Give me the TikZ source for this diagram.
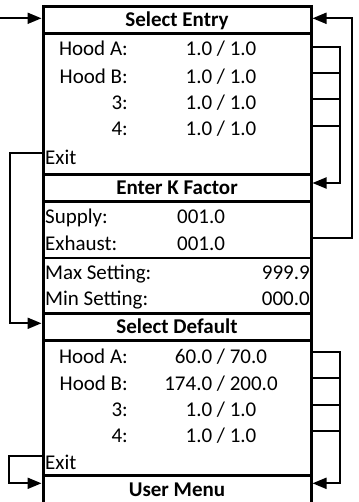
\documentclass[tikz,border=0pt]{standalone}
\usepackage{fontspec}
\setmainfont{Carlito}
\usetikzlibrary{arrows.meta}

\begin{document}
\begin{tikzpicture}[x=1pt, y=-1pt,
  font=\fontsize{21}{25}\selectfont,
  titlebox/.style={draw, line width=3pt, fill=white, minimum width=268pt, minimum height=27.2pt,
    inner sep=0pt, text height=13pt, text depth=0pt, font=\fontsize{21}{25}\selectfont\bfseries},
  lbl/.style={anchor=base east, inner sep=0pt},
  val/.style={anchor=base, inner sep=0pt},
  lft/.style={anchor=base west, inner sep=0pt},
  rgt/.style={anchor=base east, inner sep=0pt},
  wire/.style={line width=2pt},
  arr/.style={wire, -{Triangle[length=14pt, width=11pt]}}]
\clip (0,0) rectangle (358,502);

% sides of the menu column
\draw[line width=3pt] (43,5) -- (43,520);
\draw[line width=3pt] (311,5) -- (311,520);
\draw[wire] (43,257.8) -- (311,257.8);

\node[titlebox] (selentry) at (177,20.1) {Select Entry};
\node[titlebox] (kfactor) at (177,188) {Enter K Factor};
\node[titlebox] (seldef) at (177,327.3) {Select Default};
\node[titlebox, minimum height=40pt, text depth=10pt] (usermenu) at (177,495.3) {User Menu};

% select entry rows
\node[lbl] (entA) at (128,56) {Hood A:};
\node[val] (entAv) at (221,56) {1.0 / 1.0};
\node[lbl] (entB) at (128,83.3) {Hood B:};
\node[val] (entBv) at (221,83.3) {1.0 / 1.0};
\node[lbl] (ent3) at (128,109.3) {3:};
\node[val] (ent3v) at (221,109.3) {1.0 / 1.0};
\node[lbl] (ent4) at (128,136) {4:};
\node[val] (ent4v) at (221,136) {1.0 / 1.0};
\node[lft] (entexit) at (45,165) {Exit};

% k factor rows
\node[lft] (kSup) at (45,223.3) {Supply:};
\node[lft] (kSupv) at (177,223.3) {001.0};
\node[lft] (kExh) at (45,250) {Exhaust:};
\node[lft] (kExhv) at (177,250) {001.0};
\node[lft] (kMax) at (45,279) {Max Setting:};
\node[rgt] (kMaxv) at (310,279) {999.9};
\node[lft] (kMin) at (45,305.7) {Min Setting:};
\node[rgt] (kMinv) at (310,305.7) {000.0};

% select default rows
\node[lbl] (defA) at (128,363.3) {Hood A:};
\node[val] (defAv) at (221,363.3) {60.0 / 70.0};
\node[lbl] (defB) at (128,390) {Hood B:};
\node[val] (defBv) at (221,390) {174.0 / 200.0};
\node[lbl] (def3) at (128,416) {3:};
\node[val] (def3v) at (221,416) {1.0 / 1.0};
\node[lbl] (def4) at (128,442.7) {4:};
\node[val] (def4v) at (221,442.7) {1.0 / 1.0};
\node[lft] (defexit) at (45,469.3) {Exit};

% connectors
\coordinate (start) at (0,18.3);
\coordinate (eA) at (311,47);
\coordinate (eB) at (311,73);
\coordinate (e3) at (311,99.3);
\coordinate (e4) at (311,126);
\coordinate (eExit) at (43,153.3);
\coordinate (kOut) at (311,238);
\coordinate (dA) at (311,352.3);
\coordinate (dB) at (311,378.3);
\coordinate (d3) at (311,405);
\coordinate (d4) at (311,431);
\coordinate (dExit) at (43,456);

\draw[arr] (start) -- ([yshift=1.8pt]selentry.west);
\draw[arr] (kOut) -- ++(41,0) |- ([yshift=1.8pt]selentry.east);

\draw[arr] (eA) -- ++(29,0) |- ([yshift=5pt]kfactor.east);
\draw[wire] (eB) -- ++(29,0);
\draw[wire] (e3) -- ++(29,0);
\draw[wire] (e4) -- ++(29,0);
\draw[arr] (eExit) -- ++(-33,0) |- ([yshift=4pt]seldef.west);

\draw[arr] (dA) -- ++(29,0) |- ([yshift=12pt]usermenu.east);
\draw[wire] (dB) -- ++(29,0);
\draw[wire] (d3) -- ++(29,0);
\draw[wire] (d4) -- ++(29,0);
\draw[arr] (dExit) -- ++(-34,0) |- ([yshift=12pt]usermenu.west);
\end{tikzpicture}
\end{document}
